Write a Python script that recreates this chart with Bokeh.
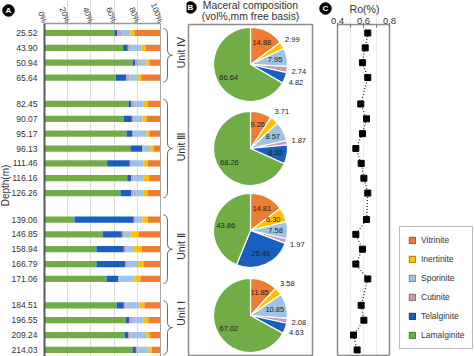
import math
from bokeh.plotting import figure
from bokeh.models import (Range1d, FixedTicker, Legend, LegendItem,
                          PrintfTickFormatter, ColumnDataSource)
from bokeh.layouts import row
from bokeh.embed import file_html
from bokeh.resources import INLINE
from bokeh.core.properties import value

# ---------------- data ----------------
depths = ["25.52", "43.90", "50.94", "65.64",
          "82.45", "90.07", "95.17", "96.13", "111.46", "116.16", "126.26",
          "139.06", "146.85", "158.94", "166.79", "171.06",
          "184.51", "196.55", "209.24", "214.03"]
group_sizes = [4, 7, 5, 4]
units = ["Unit \u2163", "Unit \u2162", "Unit \u2161", "Unit \u2160"]

lamalginite = [60.3, 67.8, 76.1, 61.5, 72.4, 68.4, 70.7, 74.1, 54.0, 71.3, 65.5,
               25.9, 50.0, 44.8, 44.8, 53.4, 62.1, 70.1, 69.0, 75.9]
telalginite = [2.3, 4.0, 2.0, 9.2, 2.3, 6.9, 5.2, 10.3, 19.5, 3.4, 9.2,
               51.1, 16.7, 23.6, 24.7, 10.3, 6.3, 2.9, 3.4, 2.9]
cutinite = [3.4, 1.7, 2.3, 2.3, 2.3, 1.7, 1.1, 1.1, 1.7, 1.7, 1.7,
            1.7, 2.3, 2.3, 1.7, 0.6, 1.1, 2.3, 1.7, 1.1]
sporinite = [8.0, 10.3, 7.5, 7.5, 8.6, 7.5, 10.9, 5.7, 10.3, 8.6, 9.2,
             5.7, 5.2, 5.7, 8.6, 13.2, 12.1, 10.3, 13.8, 9.8]
inertinite = [3.5, 3.5, 2.9, 2.9, 3.7, 3.4, 2.6, 2.9, 3.4, 5.2, 3.4,
              4.6, 6.9, 7.5, 5.7, 5.2, 4.6, 4.0, 2.9, 2.9]
vitrinite = [22.5, 12.7, 9.2, 16.6, 10.7, 12.1, 9.5, 5.9, 11.1, 9.8, 11.0,
             11.0, 18.9, 16.1, 14.5, 17.3, 13.8, 10.4, 9.2, 7.4]

ro = [0.633, 0.613, 0.592, 0.633, 0.579, 0.623, 0.592, 0.541, 0.582, 0.603,
      0.633, 0.623, 0.541, 0.592, 0.541, 0.633, 0.582, 0.603, 0.523, 0.551]

pie_vit = [14.88, 9.26, 14.81, 11.85]
pie_ine = [2.99, 3.71, 6.30, 3.58]
pie_spo = [7.95, 8.57, 7.58, 10.85]
pie_cut = [2.74, 1.87, 1.97, 2.08]
pie_tel = [4.82, 8.32, 25.49, 4.63]
pie_lam = [66.64, 68.26, 43.86, 67.02]

macerals = ["Vitrinite", "Inertinite", "Sporinite", "Cutinite", "Telalginite", "Lamalginite"]
pct_ticks = [0, 20, 40, 60, 80, 100]
ro_ticks = [0.4, 0.5, 0.6, 0.7, 0.8]

# ---------------- style / layout ----------------
COL = {"Vitrinite": "#ED7D31", "Inertinite": "#FFC000", "Sporinite": "#9DC3E6",
       "Cutinite": "#C99BB8", "Telalginite": "#1A5FBF", "Lamalginite": "#70AD47"}
EDGE = {"Vitrinite": "#A0521C", "Inertinite": "#A07800", "Sporinite": "#5E86AA",
        "Cutinite": "#876377", "Telalginite": "#0D3670", "Lamalginite": "#4A7A2C"}
FONT = "Liberation Sans"
TXT = "#333333"
H = 356

SLOT = 14.85      # px per bar slot
Y0PIX = 32.5      # pixel row of first bar
GAP = 0.78        # extra slots between units


def pix2pos(p):
    return (p - Y0PIX) / SLOT


pos = []
k = 0
for g, n in enumerate(group_sizes):
    for j in range(n):
        pos.append(round(k + g * GAP, 4))
        k += 1
group_idx = []
s = 0
for n in group_sizes:
    group_idx.append((s, s + n - 1))
    s += n


def badge(p, x, y, letter):
    p.scatter(x=[x], y=[y], marker="circle", size=11.5, fill_color="black", line_color="black")
    p.text(x=[x], y=[y], text=[letter], text_font=value(FONT), text_font_size="8px",
           text_font_style="bold", text_color="white", text_align="center",
           text_baseline="middle")


def base_fig(width, xr, yr, xloc, yloc):
    p = figure(width=width, height=H, x_range=xr, y_range=yr, x_axis_location=xloc,
               y_axis_location=yloc, output_backend="svg", toolbar_location=None,
               min_border=0, outline_line_color=None, title=None)
    p.grid.grid_line_color = None
    return p


# ---------------- panel A ----------------
A_PXL, A_SCALE = 44, 1.16          # 0% pixel, px per %
A_TOP_PIX = 23
a_top = pix2pos(A_TOP_PIX)
a_bot = pix2pos(H)
pA = base_fig(186, Range1d(-A_PXL / A_SCALE, (186 - A_PXL) / A_SCALE),
              Range1d(start=a_bot, end=pix2pos(0)), "above", "left")

src = ColumnDataSource(dict(pos=pos, Lamalginite=lamalginite, Telalginite=telalginite,
                            Cutinite=cutinite, Sporinite=sporinite, Inertinite=inertinite,
                            Vitrinite=vitrinite))
stack_order = ["Lamalginite", "Telalginite", "Cutinite", "Sporinite", "Inertinite", "Vitrinite"]

pA.xgrid.ticker = FixedTicker(ticks=[20, 40, 60, 80])
pA.xgrid.grid_line_color = "#dcdcdc"
pA.xgrid.bounds = (a_top, a_bot)

pA.hbar_stack(stack_order, y="pos", height=0.42, fill_color=[COL[m] for m in stack_order],
              line_color=None, source=src)
pA.segment(x0=[100], y0=[a_top], x1=[100], y1=[a_bot], line_color="#a6a6a6", line_width=1)

xa = pA.xaxis[0]
xa.fixed_location = a_top
xa.bounds = (0, 100)
xa.ticker = FixedTicker(ticks=pct_ticks)
xa.formatter = PrintfTickFormatter(format="%d%%")
xa.major_label_orientation = -1.2
xa.axis_line_color = "#9a9a9a"
xa.axis_line_width = 1.5
xa.major_tick_line_color = None
xa.major_tick_out = 0
xa.major_tick_in = 0
xa.minor_tick_line_color = None
xa.major_label_text_font = FONT
xa.major_label_text_font_size = "8px"
xa.major_label_text_color = TXT
xa.major_label_standoff = 1

ya = pA.yaxis[0]
ya.fixed_location = 0
ya.bounds = (a_top, a_bot)
ya.ticker = FixedTicker(ticks=pos)
ya.major_label_overrides = {p_: d for p_, d in zip(pos, depths)}
ya.major_label_text_font = FONT
ya.major_label_text_font_size = "8.5px"
ya.major_label_text_color = TXT
ya.major_label_standoff = 7
ya.major_tick_line_color = None
ya.major_tick_out = 0
ya.major_tick_in = 0
ya.minor_tick_line_color = None
ya.axis_line_color = "#595959"
ya.axis_line_width = 2

pA.text(x=[(5 - A_PXL) / A_SCALE], y=[pix2pos(185)], text=["Depth(m)"], angle=math.pi / 2,
        text_align="center", text_baseline="middle", text_font=value(FONT),
        text_font_size="10px", text_color=TXT)

# braces
bx0, bxs, bxt, q = 102.6, 106.0, 110.3, 0.4
qx0, qy0, qx1, qy1, qcx, qcy = [], [], [], [], [], []
sx0, sy0, sx1, sy1 = [], [], [], []
for (i0, i1) in group_idx:
    ytb = pos[i0] - 0.3
    ybb = pos[i1] + 0.3
    ym = (ytb + ybb) / 2
    for a, b, c in [((bx0, ytb), (bxs, ytb + q), (bxs, ytb)),
                    ((bxs, ym - q), (bxt, ym), (bxs, ym)),
                    ((bxt, ym), (bxs, ym + q), (bxs, ym)),
                    ((bxs, ybb - q), (bx0, ybb), (bxs, ybb))]:
        qx0.append(a[0]); qy0.append(a[1]); qx1.append(b[0]); qy1.append(b[1])
        qcx.append(c[0]); qcy.append(c[1])
    sx0 += [bxs, bxs]; sy0 += [ytb + q, ym + q]; sx1 += [bxs, bxs]; sy1 += [ym - q, ybb - q]
pA.quadratic(x0=qx0, y0=qy0, x1=qx1, y1=qy1, cx=qcx, cy=qcy, line_color="#666666", line_width=1)
pA.segment(x0=sx0, y0=sy0, x1=sx1, y1=sy1, line_color="#666666", line_width=1)

unit_label_y = [pix2pos(52), pix2pos(146), pix2pos(246), pix2pos(313)]
pA.text(x=[117.6] * 4, y=unit_label_y, text=units, angle=math.pi / 2,
        text_align="center", text_baseline="middle", text_font=value(FONT),
        text_font_size="10.5px", text_color=TXT)

badge(pA, (8 - A_PXL) / A_SCALE, pix2pos(10), "A")

# ---------------- panel B ----------------
B_W = 132
pB = base_fig(B_W, Range1d(0, B_W), Range1d(0, H), None, None)
pB.quad(left=[2], right=[126], bottom=[1], top=[H - 24], fill_color=None,
        line_color="#8c8c8c", line_width=1.5)

pie_series = {"Vitrinite": pie_vit, "Inertinite": pie_ine, "Sporinite": pie_spo,
              "Cutinite": pie_cut, "Telalginite": pie_tel, "Lamalginite": pie_lam}
pie_cy = [H - 64, H - 148, H - 230, H - 315]
PCX, PR = 64, 37
wx, wy, ws, we, wc = [], [], [], [], []
tx, ty, tt = [], [], []
for u in range(4):
    cum = 0.0
    for m in macerals:
        v = pie_series[m][u]
        a0 = math.pi / 2 - 2 * math.pi * cum / 100
        a1 = math.pi / 2 - 2 * math.pi * (cum + v) / 100
        wx.append(PCX); wy.append(pie_cy[u]); ws.append(a0); we.append(a1); wc.append(COL[m])
        mid = (a0 + a1) / 2
        f = 0.68 if v >= 5 else 1.32
        tx.append(PCX + f * PR * math.cos(mid))
        ty.append(pie_cy[u] + f * PR * math.sin(mid))
        tt.append(f"{v:.2f}")
        cum += v
pB.wedge(x=wx, y=wy, radius=PR, start_angle=ws, end_angle=we, direction="clock",
         fill_color=wc, line_color="white", line_width=1.2)
pB.text(x=tx, y=ty, text=tt, text_align="center", text_baseline="middle",
        text_font=value(FONT), text_font_size="7.5px", text_color="#222222")

pB.text(x=[PCX, PCX], y=[H - 5, H - 16], text=["Maceral composition", "(vol%,mm free basis)"],
        text_align="center", text_baseline="middle", text_font=value(FONT),
        text_font_size="10.4px", text_color=TXT)
badge(pB, 4, H - 7, "B")

# ---------------- panel C ----------------
C_W, C_PXL, C_SCALE = 156, 19, 130.0
C_TOP_PIX = 24
c_top = pix2pos(C_TOP_PIX)
c_bot = pix2pos(H - 1)
pC = base_fig(C_W, Range1d(0.4 - C_PXL / C_SCALE, 0.4 + (C_W - C_PXL) / C_SCALE),
              Range1d(start=pix2pos(H), end=pix2pos(0)), "above", None)

pC.xgrid.ticker = FixedTicker(ticks=[0.5, 0.6, 0.7])
pC.xgrid.grid_line_color = "#c8c8c8"
pC.xgrid.grid_line_dash = "1 2"
pC.xgrid.bounds = (c_top, c_bot)

pC.segment(x0=[0.4, 0.8, 0.4], y0=[c_top, c_top, c_bot], x1=[0.4, 0.8, 0.8],
           y1=[c_bot, c_bot, c_bot], line_color="#8c8c8c", line_width=1.5)

xc = pC.xaxis[0]
xc.fixed_location = c_top
xc.bounds = (0.4, 0.8)
xc.ticker = FixedTicker(ticks=ro_ticks)
xc.major_label_overrides = {0.5: "", 0.7: ""}
xc.major_tick_in = 3
xc.major_tick_out = 0
xc.major_tick_line_color = "#777777"
xc.minor_tick_line_color = None
xc.axis_line_color = "#8c8c8c"
xc.axis_line_width = 1.5
xc.major_label_text_font = FONT
xc.major_label_text_font_size = "9.5px"
xc.major_label_text_color = TXT
xc.major_label_standoff = 1

pC.line(x=ro, y=pos, line_color="#222222", line_dash="1 2", line_width=1.2)
pC.scatter(x=ro, y=pos, marker="square", size=6, fill_color="black", line_color="black")

pC.text(x=[0.4 + 27 / C_SCALE], y=[pix2pos(8)], text=["Ro(%)"], text_align="center",
        text_baseline="middle", text_font=value(FONT), text_font_size="10.6px", text_color=TXT)
badge(pC, 0.4 + (325 - 337) / C_SCALE, pix2pos(8), "C")

nan = float("nan")
items = []
for m in macerals:
    r = pC.quad(left=[nan], right=[nan], top=[nan], bottom=[nan],
                fill_color=COL[m], line_color=EDGE[m], line_width=1)
    items.append(LegendItem(label=m, renderers=[r]))
legend = Legend(items=items, location=(81, 7), label_text_font=FONT, label_text_font_size="8.5px",
                label_text_color=TXT, glyph_width=8, glyph_height=8, label_height=9,
                spacing=9, padding=8, margin=0, label_standoff=5,
                border_line_color="#777777", border_line_width=1,
                background_fill_color="white", background_fill_alpha=1.0)
pC.add_layout(legend)

layout = row(pA, pB, pC)
open("out.html", "w").write(file_html(layout, INLINE))
